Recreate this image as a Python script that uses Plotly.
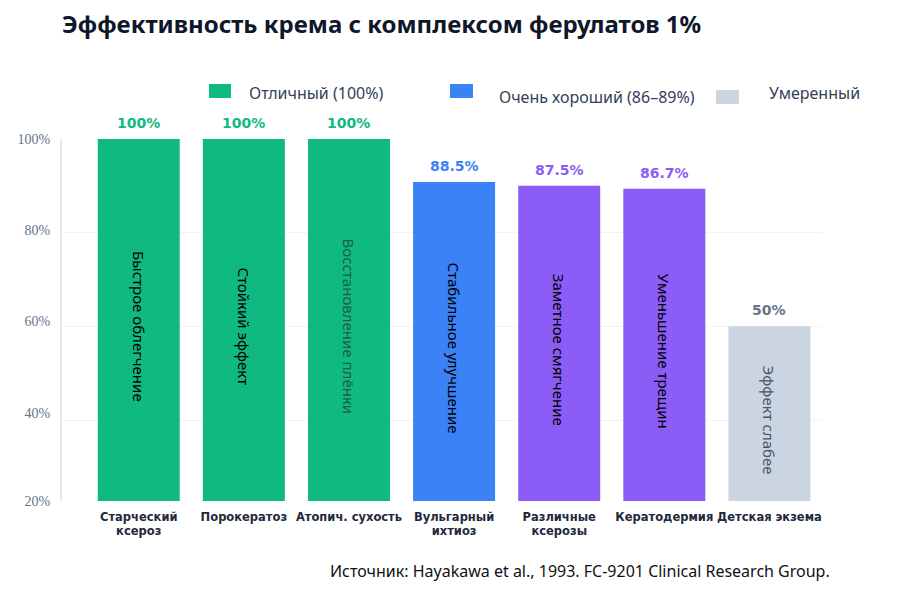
import plotly.graph_objects as go

# data
categories = ['Старческий<br>ксероз', 'Порокератоз', 'Атопич. сухость', 'Вульгарный<br>ихтиоз',
              'Различные<br>ксерозы', 'Кератодермия', 'Детская экзема']
values = [100, 100, 100, 88.5, 87.5, 86.7, 50]
value_labels = ['100%', '100%', '100%', '88.5%', '87.5%', '86.7%', '50%']
notes = ['Быстрое облегчение', 'Стойкий эффект', 'Восстановление плёнки', 'Стабильное улучшение',
         'Заметное смягчение', 'Уменьшение трещин', 'Эффект слабее']
bar_colors = ['#10b981', '#10b981', '#10b981', '#3b82f6', '#8b5cf6', '#8b5cf6', '#cbd5e1']
label_colors = ['#10b981', '#10b981', '#10b981', '#3b82f6', '#8b5cf6', '#8b5cf6', '#64748b']
note_colors = ['#000000', '#000000', '#1a5e4a', '#000000', '#000000', '#000000', '#475569']

legend_names = ['Отличный (100%)', 'Очень хороший (86–89%)', 'Умеренный']
legend_colors = ['#10b981', '#3b82f6', '#cbd5e1']

tick_vals = [100, 75.6, 51.3, 26.8, 3.4]
tick_text = ['100%', '80%', '60%', '40%', '20%']

W, H = 916, 589
OFF = 8  # page body margin
L, R, T, B = 62 - OFF, 822 - OFF, 139 - OFF, 501 - OFF  # plot area in pixels


def px(x):
    return (x - OFF - L) / (R - L)


def py(y):
    return (B - (y - OFF)) / (B - T)


fig = go.Figure()
fig.add_trace(go.Bar(
    x=categories,
    y=values,
    marker=dict(color=bar_colors, line=dict(width=0)),
    text=notes,
    textposition='inside',
    insidetextanchor='middle',
    textangle=90,
    insidetextfont=dict(family='Noto Sans', size=15, color=note_colors),
    hoverinfo='skip',
    showlegend=False,
))

for i, c in enumerate(categories):
    fig.add_annotation(x=c, y=values[i], text='<b>' + value_labels[i] + '</b>',
                       showarrow=False, yanchor='bottom', yshift=6,
                       font=dict(family='DejaVu Sans', size=14, color=label_colors[i]))

# legend drawn by hand (squares + labels), reference pixel positions
leg_box = [(209, 231, 84, 98), (450, 473, 84, 98), (716, 739, 90, 104)]
leg_text = [(247, 93), (497, 97), (767, 93)]
for i, name in enumerate(legend_names):
    x0, x1, y0, y1 = leg_box[i]
    fig.add_shape(type='rect', xref='paper', yref='paper',
                  x0=px(x0), x1=px(x1), y0=py(y1), y1=py(y0),
                  fillcolor=legend_colors[i], line=dict(width=0))
    fig.add_annotation(x=px(leg_text[i][0]), y=py(leg_text[i][1]), xref='paper', yref='paper',
                       text=name, showarrow=False, xanchor='left', yanchor='middle',
                       font=dict(family='Noto Sans', size=16, color='#334155'))

fig.add_annotation(x=px(832), y=py(571), xref='paper', yref='paper',
                   text='Источник: Hayakawa et al., 1993. FC-9201 Clinical Research Group.',
                   showarrow=False, xanchor='right', yanchor='middle',
                   font=dict(family='Noto Sans', size=16, color='#111111'))

fig.update_layout(
    width=W, height=H,
    paper_bgcolor='white', plot_bgcolor='white',
    margin=dict(l=L, r=W - R, t=T, b=H - B, autoexpand=False),
    title=dict(text='<b>Эффективность крема с комплексом ферулатов 1%</b>',
               x=px(62), xref='paper', xanchor='left', y=(H - (25 - OFF)) / H, yanchor='middle',
               font=dict(family='Noto Sans', size=24, color='#0f172a')),
    bargap=0.22,
    showlegend=False,
)
fig.update_xaxes(type='category', range=[-0.73, 6.5], showgrid=False, showline=False, ticks='',
                 tickvals=categories, ticktext=['<b>' + c + '</b>' for c in categories],
                 ticklabelstandoff=7,
                 tickfont=dict(family='DejaVu Sans', size=11.5, color='#1e293b'))
fig.update_yaxes(range=[3.4, 100], tickvals=tick_vals, ticktext=tick_text,
                 showgrid=False, zeroline=False, showline=True, linecolor='#e2e8f0', linewidth=2,
                 ticks='', ticklabelstandoff=7,
                 tickfont=dict(family='Liberation Serif', size=14, color='#64748b'),
                 minor=dict(tickvals=[25, 50, 75], showgrid=True, gridcolor='#f1f3f7', gridwidth=1))

fig.write_html('out.html')
